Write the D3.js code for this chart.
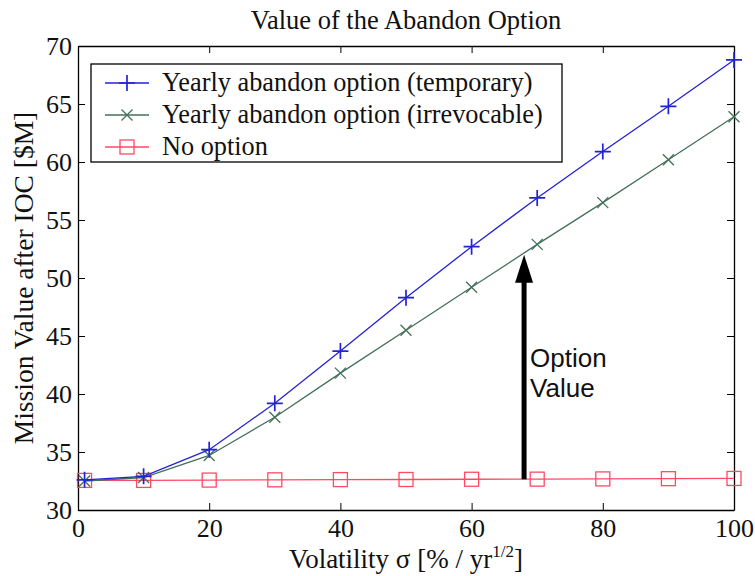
<!DOCTYPE html>
<html>
<head>
<meta charset="utf-8">
<script src="https://cdn.jsdelivr.net/npm/d3@7"></script>
<style>
  html, body { margin: 0; padding: 0; background: #fff; }
  svg { display: block; }
  text { font-family: "Liberation Serif", "Times New Roman", serif; fill: #111; }
  text.sans { font-family: "Liberation Sans", Arial, sans-serif; }
</style>
</head>
<body>
<svg id="chart" width="755" height="576"></svg>
<script>
// Volatility sample points (% / yr^1/2)
const volatility = [1, 10, 20, 30, 40, 50, 60, 70, 80, 90, 100];
// Mission value after IOC ($M)
const temporaryValues   = [32.6, 32.9, 35.2, 39.2, 43.7, 48.3, 52.7, 56.9, 60.9, 64.8, 68.8];
const irrevocableValues = [32.5, 32.8, 34.7, 38.0, 41.8, 45.5, 49.2, 52.9, 56.5, 60.2, 63.9];
const noOptionValues    = [32.55, 32.55, 32.58, 32.6, 32.62, 32.63, 32.65, 32.66, 32.68, 32.7, 32.72];
const seriesNames = ["Yearly abandon option (temporary)", "Yearly abandon option (irrevocable)", "No option"];
const xTicks = [0, 20, 40, 60, 80, 100];
const yTicks = [30, 35, 40, 45, 50, 55, 60, 65, 70];
// Option-value arrow: drawn at this volatility, from the no-option curve up to the irrevocable curve
const arrowAt = 68;
const arrowFrom = 32.65;
const arrowTo = 52.0;

const svg = d3.select("#chart");
const margin = { left: 78, right: 21, top: 46, bottom: 66 };
const W = 755, H = 576;

const x = d3.scaleLinear().domain([0, 100]).range([margin.left, W - margin.right]);
const y = d3.scaleLinear().domain([30, 70]).range([H - margin.bottom, margin.top]);

const colors = ["#2323d6", "#44705a", "#ff4a63"];
const series = [temporaryValues, irrevocableValues, noOptionValues];

// Axes box with inward ticks on all four sides
const tickLen = 7;
const axisG = svg.append("g");
const axBottom = d3.axisBottom(x).tickValues(xTicks).tickSizeInner(-tickLen).tickSizeOuter(0).tickPadding(9);
const axTop = d3.axisTop(x).tickValues(xTicks).tickSizeInner(-tickLen).tickSizeOuter(0).tickFormat("");
const axLeft = d3.axisLeft(y).tickValues(yTicks).tickSizeInner(-tickLen).tickSizeOuter(0).tickPadding(6);
const axRight = d3.axisRight(y).tickValues(yTicks).tickSizeInner(-tickLen).tickSizeOuter(0).tickFormat("");

axisG.append("g").attr("transform", `translate(0,${y(30)})`).call(axBottom);
axisG.append("g").attr("transform", `translate(0,${y(70)})`).call(axTop);
axisG.append("g").attr("transform", `translate(${x(0)},0)`).call(axLeft);
axisG.append("g").attr("transform", `translate(${x(100)},0)`).call(axRight);
axisG.selectAll(".domain").attr("stroke", "#000").attr("stroke-width", 1.3);
axisG.selectAll(".tick line").attr("stroke", "#000").attr("stroke-width", 1);
axisG.selectAll(".tick text")
  .style("font-family", "'Liberation Serif', 'Times New Roman', serif")
  .style("font-size", "26px").attr("fill", "#111");

// Series lines and markers
const line = d3.line().x((d, i) => x(volatility[i])).y(d => y(d));

function drawMarker(g, kind, cx, cy, color) {
  if (kind === 0) {
    const s = 8;
    g.append("path").attr("d", `M${cx - s},${cy}H${cx + s}M${cx},${cy - s}V${cy + s}`)
      .attr("stroke", color).attr("stroke-width", 1.7).attr("fill", "none");
  } else if (kind === 1) {
    const s = 5.5;
    g.append("path").attr("d", `M${cx - s},${cy - s}L${cx + s},${cy + s}M${cx - s},${cy + s}L${cx + s},${cy - s}`)
      .attr("stroke", color).attr("stroke-width", 1.3).attr("fill", "none");
  } else {
    const s = 7;
    g.append("rect").attr("x", cx - s).attr("y", cy - s).attr("width", 2 * s).attr("height", 2 * s)
      .attr("stroke", color).attr("stroke-width", 1.3).attr("fill", "none");
  }
}

const plotG = svg.append("g");
[2, 1, 0].forEach(k => {
  plotG.append("path").datum(series[k]).attr("d", line)
    .attr("fill", "none").attr("stroke", colors[k]).attr("stroke-width", 1.3);
  series[k].forEach((v, i) => drawMarker(plotG, k, x(volatility[i]), y(v), colors[k]));
});

// Option value arrow
const ax = x(arrowAt);
const headLen = 28, headHalf = 9;
svg.append("line")
  .attr("x1", ax).attr("x2", ax)
  .attr("y1", y(arrowFrom)).attr("y2", y(arrowTo) + headLen - 2)
  .attr("stroke", "#000").attr("stroke-width", 5);
svg.append("path")
  .attr("d", `M${ax},${y(arrowTo)}L${ax - headHalf},${y(arrowTo) + headLen}L${ax + headHalf},${y(arrowTo) + headLen}Z`)
  .attr("fill", "#000");
svg.append("text").attr("class", "sans").attr("x", ax + 6).attr("y", 367)
  .style("font-size", "26px").text("Option");
svg.append("text").attr("class", "sans").attr("x", ax + 6).attr("y", 397)
  .style("font-size", "26px").text("Value");

// Legend
const legend = svg.append("g");
legend.append("rect").attr("x", 91).attr("y", 64).attr("width", 471).attr("height", 98)
  .attr("fill", "#fff").attr("stroke", "#000").attr("stroke-width", 1.3);
seriesNames.forEach((name, k) => {
  const cy = 83 + k * 32;
  legend.append("line").attr("x1", 105).attr("x2", 149).attr("y1", cy).attr("y2", cy)
    .attr("stroke", colors[k]).attr("stroke-width", 1.3);
  drawMarker(legend, k, 127, cy, colors[k]);
  legend.append("text").attr("x", 162).attr("y", cy + 8).style("font-size", "26.3px").text(name);
});

// Title and axis labels
svg.append("text").attr("x", 406).attr("y", 29).attr("text-anchor", "middle")
  .style("font-size", "26.5px").text("Value of the Abandon Option");

const xl = svg.append("text").attr("x", 406).attr("y", 568).attr("text-anchor", "middle").style("font-size", "27px");
xl.append("tspan").text("Volatility σ [% / yr");
xl.append("tspan").style("font-size", "17px").attr("dy", -11).text("1/2");
xl.append("tspan").attr("dy", 11).text("]");

svg.append("text")
  .attr("transform", `translate(33,278) rotate(-90)`)
  .attr("text-anchor", "middle").style("font-size", "27.5px")
  .text("Mission Value after IOC [$M]");
</script>
</body>
</html>
